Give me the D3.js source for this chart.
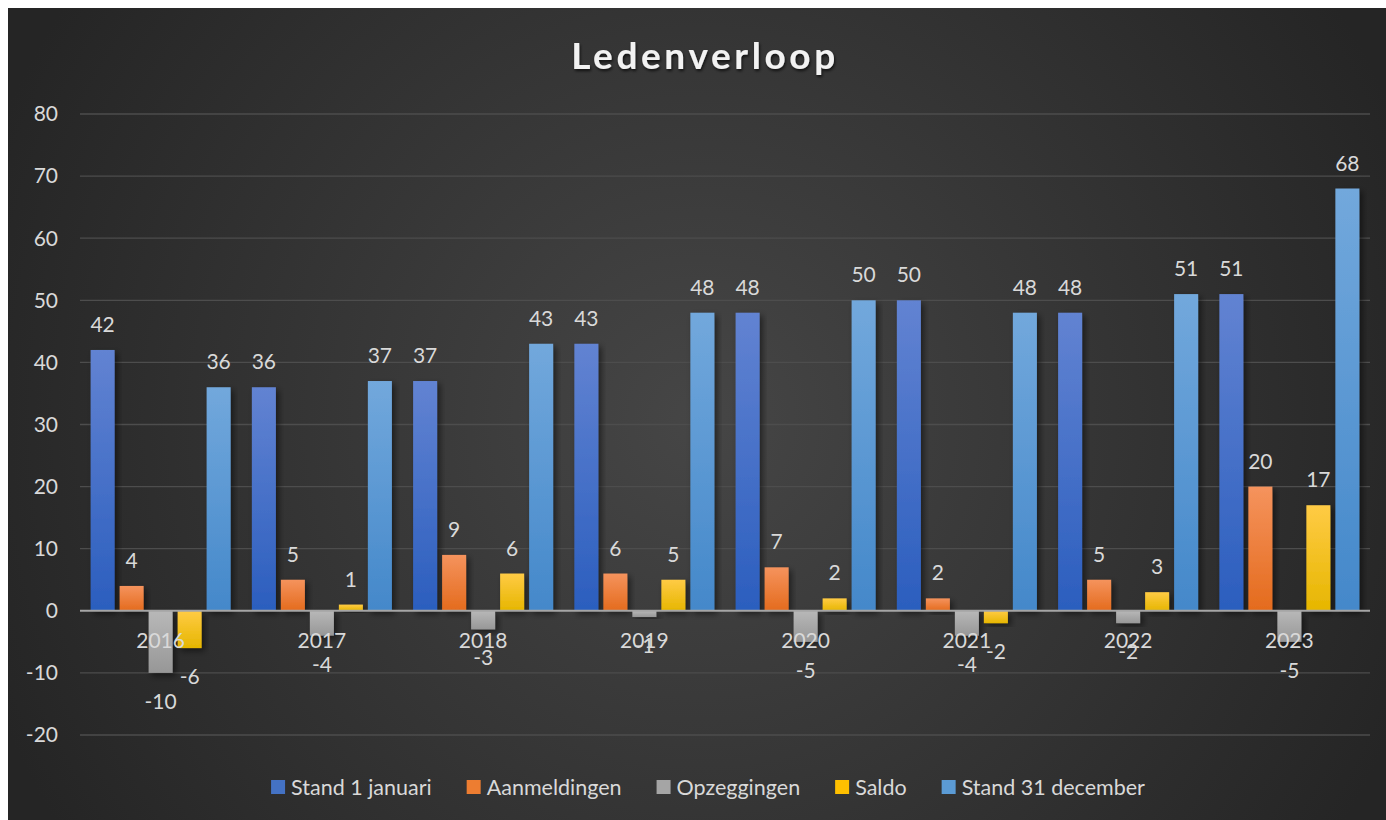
<!DOCTYPE html>
<html>
<head>
<meta charset="utf-8">
<script src="https://cdn.jsdelivr.net/npm/d3@7"></script>
<style>
  body { margin: 0; background: #fff; }
  svg { display: block; }
  text { font-family: Lato, "Open Sans", sans-serif; }
</style>
</head>
<body>
<script>
// Ledenverloop - clustered bars per year
var years = ['2016', '2017', '2018', '2019', '2020', '2021', '2022', '2023'];
var standJan = [42, 36, 37, 43, 48, 50, 48, 51];
var aanmeldingen = [4, 5, 9, 6, 7, 2, 5, 20];
var opzeggingen = [-10, -4, -3, -1, -5, -4, -2, -5];
var saldo = [-6, 1, 6, 5, 2, -2, 3, 17];
var standDec = [36, 37, 43, 48, 50, 48, 51, 68];
var seriesNames = ['Stand 1 januari', 'Aanmeldingen', 'Opzeggingen', 'Saldo', 'Stand 31 december'];
var yTicks = [-20, -10, 0, 10, 20, 30, 40, 50, 60, 70, 80];

var allSeries = [standJan, aanmeldingen, opzeggingen, saldo, standDec];
// top / bottom colours of each bar gradient
var colors = [
  ['#6283d2', '#2b5ebe'],
  ['#f5935d', '#e46b1d'],
  ['#b8b8b8', '#979797'],
  ['#ffcb45', '#e6b600'],
  ['#72a8dc', '#4488ca']
];
var legendColors = ['#4472c4', '#ed7d31', '#a5a5a5', '#ffc000', '#5b9bd5'];

var W = 1386, H = 820;
var svg = d3.select('body').append('svg').attr('width', W).attr('height', H);
var defs = svg.append('defs');

var bg = defs.append('radialGradient').attr('id', 'bg')
  .attr('gradientUnits', 'userSpaceOnUse')
  .attr('cx', 700).attr('cy', 420).attr('r', 760);
bg.append('stop').attr('offset', 0).attr('stop-color', '#464646');
bg.append('stop').attr('offset', 1).attr('stop-color', '#252525');

colors.forEach(function(c, i) {
  var g = defs.append('linearGradient').attr('id', 'bar' + i)
    .attr('x1', 0).attr('y1', 0).attr('x2', 0).attr('y2', 1);
  g.append('stop').attr('offset', 0).attr('stop-color', c[0]);
  g.append('stop').attr('offset', 1).attr('stop-color', c[1]);
});

var shadow = defs.append('filter').attr('id', 'shadow')
  .attr('x', '-30%').attr('y', '-30%').attr('width', '160%').attr('height', '160%');
shadow.append('feDropShadow').attr('dx', 3).attr('dy', 3).attr('stdDeviation', 3)
  .attr('flood-color', '#000').attr('flood-opacity', 0.5);

var tshadow = defs.append('filter').attr('id', 'tshadow');
tshadow.append('feDropShadow').attr('dx', 1).attr('dy', 2).attr('stdDeviation', 1.5)
  .attr('flood-color', '#000').attr('flood-opacity', 0.7);

svg.append('rect').attr('x', 8).attr('y', 8).attr('width', W - 8).attr('height', H - 8)
  .attr('fill', 'url(#bg)');

var y = d3.scaleLinear().domain([-20, 80]).range([735, 114]);
var x = d3.scaleBand().domain(years).range([80, 1370]);
var xs = d3.scaleBand().domain(d3.range(5)).range([0, x.bandwidth()])
  .paddingInner(0.172).paddingOuter(0.366);

// gridlines
svg.append('g').selectAll('line').data(yTicks.filter(function(d) { return d !== 0; }))
  .enter().append('line')
  .attr('x1', 80).attr('x2', 1370)
  .attr('y1', function(d) { return y(d); }).attr('y2', function(d) { return y(d); })
  .attr('stroke', '#4d4d4d').attr('stroke-width', 1.3);

// y axis labels
svg.append('g').selectAll('text').data(yTicks).enter().append('text')
  .attr('x', 58).attr('y', function(d) { return y(d); })
  .attr('dy', '0.35em').attr('text-anchor', 'end')
  .attr('fill', '#d9d9d9').attr('font-size', 21)
  .text(function(d) { return d; });

// bars
var groups = svg.append('g').selectAll('g').data(years).enter().append('g')
  .attr('transform', function(d) { return 'translate(' + x(d) + ',0)'; });

groups.each(function(yr, yi) {
  var g = d3.select(this);
  allSeries.forEach(function(s, si) {
    var v = s[yi];
    g.append('rect')
      .attr('x', xs(si)).attr('width', xs.bandwidth())
      .attr('y', Math.min(y(v), y(0)))
      .attr('height', Math.abs(y(v) - y(0)))
      .attr('fill', 'url(#bar' + si + ')')
      .attr('filter', 'url(#shadow)');
  });
});

// zero axis
svg.append('line').attr('x1', 80).attr('x2', 1370).attr('y1', y(0)).attr('y2', y(0))
  .attr('stroke', '#a6a6a6').attr('stroke-width', 2);

// category labels
svg.append('g').selectAll('text').data(years).enter().append('text')
  .attr('x', function(d) { return x(d) + x.bandwidth() / 2; })
  .attr('y', y(0) + 37)
  .attr('text-anchor', 'middle').attr('fill', '#d9d9d9').attr('font-size', 21)
  .text(function(d) { return d; });

// data labels
groups.each(function(yr, yi) {
  var g = d3.select(this);
  allSeries.forEach(function(s, si) {
    var v = s[yi];
    g.append('text')
      .attr('x', xs(si) + xs.bandwidth() / 2)
      .attr('y', v >= 0 ? y(v) - 18 : y(v) + 36)
      .attr('text-anchor', 'middle').attr('fill', '#d9d9d9').attr('font-size', 21)
      .text(v);
  });
});

// title
svg.append('text').attr('x', 705).attr('y', 69).attr('text-anchor', 'middle')
  .attr('fill', '#f2f2f2').attr('font-size', 37).attr('font-weight', 'bold')
  .attr('letter-spacing', 3.6).attr('filter', 'url(#tshadow)')
  .text('Ledenverloop');

// legend
var legend = svg.append('g');
var items = legend.selectAll('g').data(seriesNames).enter().append('g');
items.append('rect').attr('width', 14).attr('height', 14).attr('y', -7)
  .attr('fill', function(d, i) { return legendColors[i]; });
items.append('text').attr('x', 20).attr('dy', '0.35em')
  .attr('fill', '#d9d9d9').attr('font-size', 21.5)
  .text(function(d) { return d; });
var offs = [], cur = 0;
items.each(function() {
  offs.push(cur);
  cur += 20 + this.querySelector('text').getComputedTextLength() + 35;
});
var total = cur - 35, start = 708 - total / 2;
items.attr('transform', function(d, i) { return 'translate(' + (start + offs[i]) + ',787)'; });
</script>
</body>
</html>
